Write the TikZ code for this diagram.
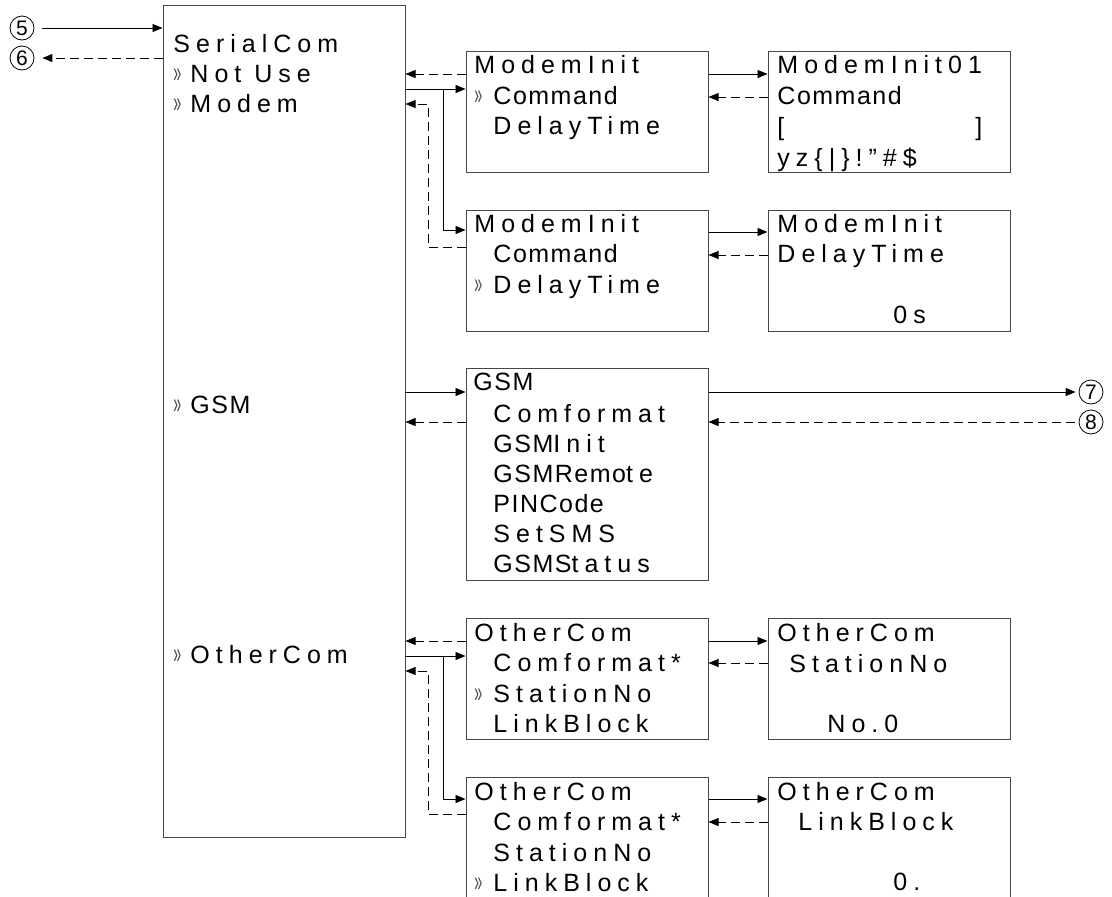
\documentclass[tikz,border=0pt]{standalone}
\usepackage{graphicx}
\usepackage{fontspec}
\setmainfont{Liberation Sans}[LetterSpace=24]
\newfontfamily\tightfont{Liberation Sans}[LetterSpace=6]
\newfontfamily\digitfont{Liberation Sans}
\usepackage{tikz}
\usetikzlibrary{arrows.meta}
\usetikzlibrary{calc}
\definecolor{boxgray}{RGB}{70,70,70}
\newcommand{\drawarrow}{\draw[-{Triangle[length=10pt,width=8pt]}]}
\newcommand{\drawback}{\draw[dashed line, -{Triangle[length=10pt,width=8pt]}]}
\newcommand{\sel}{\textcolor{black!70}{\scalebox{0.75}[1.55]{\fontsize{19}{19}\selectfont »}}}
\newcommand{\tg}[1]{{\tightfont #1}}

\begin{document}
\begin{tikzpicture}[x=1pt,y=-1pt,
    box/.style={draw=boxgray,line width=1pt,inner sep=0,minimum width=242pt},
    txt/.style={anchor=base west,inner sep=0,font=\fontsize{25}{25}\selectfont},
    num/.style={circle,draw,line width=0.8pt,inner sep=0,minimum size=24pt,
        font=\digitfont\fontsize{21}{21}\selectfont},
    dashed line/.style={dash pattern=on 9pt off 5pt},
    line width=0.9pt]
    \useasboundingbox (0,0) rectangle (1112,897);
    \clip (0,0) rectangle (1112,897);

    % Draw boxes
    \node[box,minimum height=832pt] (main) at (284,421) {};
    \node[box,minimum height=121pt] (mi1) at (587,111.5) {};
    \node[box,minimum height=121pt] (mi2) at (587,270.5) {};
    \node[box,minimum height=121pt] (mc) at (889,111.5) {};
    \node[box,minimum height=121pt] (md) at (889,270.5) {};
    \node[box,minimum height=212pt] (gsm) at (587,474) {};
    \node[box,minimum height=121pt] (oc1) at (587,678.5) {};
    \node[box,minimum height=121pt] (oc2) at (587,837.5) {};
    \node[box,minimum height=121pt] (ost) at (889,678.5) {};
    \node[box,minimum height=121pt] (olb) at (889,837.5) {};

    % Circled numbers
    \node[num] (n5) at (22,28) {5};
    \node[num] (n6) at (22,58) {6};
    \node[num] (n7) at (1091,392) {7};
    \node[num] (n8) at (1091,422) {8};

    % Main menu
    \node[txt] (title) at (173,52) {SerialCom};
    \node[txt] (s1) at (173,82) {\sel};
    \node[txt] (notuse) at (190,82) {Not Use};
    \node[txt] (s2) at (173,112) {\sel};
    \node[txt] (modem) at (190,112) {Modem};
    \node[txt] (s3) at (173,413) {\sel};
    \node[txt] (gsmitem) at (190,413) {\tg{GSM}};
    \node[txt] (s4) at (173,663) {\sel};
    \node[txt] (otheritem) at (190,663) {OtherCom};

    % ModemInit menus
    \node[txt] (mi1t) at (474,73) {ModemInit};
    \node[txt] (mi1a) at (493,104) {\tg{Command}};
    \node[txt] (mi1b) at (493,134) {DelayTime};
    \node[txt] (mi1s) at (474,104) {\sel};
    \node[txt] (mi2t) at (474,232) {ModemInit};
    \node[txt] (mi2a) at (493,262) {\tg{Command}};
    \node[txt] (mi2b) at (493,293) {DelayTime};
    \node[txt] (mi2s) at (474,293) {\sel};

    \node[txt] (mct) at (777,73) {ModemInit01};
    \node[txt] (mca) at (777,104) {\tg{Command}};
    \node[txt] (mcl) at (777,135) {[};
    \node[txt] (mcr) at (975,135) {]};
    \node[txt] (mcc) at (777,166) {yz\{|\}!"\#\$};
    \node[txt] (mdt) at (777,232) {ModemInit};
    \node[txt] (mda) at (777,262) {DelayTime};
    \node[txt] (mdv) at (893,323) {0s};

    % GSM menu
    \node[txt] (gsmt) at (473,390) {\tg{GSM}};
    \foreach \t [count=\i] in {Comformat,\tg{GSM}Init,\tg{GSMRemo}te,\tg{PINCode},SetSMS,\tg{GSMS}tatus}
        \node[txt] (gsm\i) at (493,392+30*\i) {\t};

    % OtherCom menus
    \foreach \b/\y/\s in {oc1/641/3,oc2/800/4} {
        \node[txt] (\b t) at (474,\y) {OtherCom};
        \node[txt] (\b a) at (493,\y+30.5) {Comformat*};
        \node[txt] (\b b) at (493,\y+61) {StationNo};
        \node[txt] (\b c) at (493,\y+91.5) {LinkBlock};
        \node[txt] (\b s) at (474,\y+\s*30.5-30.5) {\sel};
    }
    \node[txt] (ostt) at (777,641) {OtherCom};
    \node[txt] (osta) at (789,672) {StationNo};
    \node[txt] (ostv) at (827,732) {No.0};
    \node[txt] (olbt) at (777,800) {OtherCom};
    \node[txt] (olba) at (798,830) {LinkBlock};
    \node[txt] (olbv) at (893,890) {0.};

    % Entry and exit
    \drawarrow ([xshift=8pt]n5.east) -- (main.west |- n5);
    \drawback (main.west |- n6) -- ([xshift=8pt]n6.east);

    % Modem branch
    \coordinate (mbr) at (443,89);
    \drawback (mi1.west |- 0,74) -- (main.east |- 0,74);
    \drawarrow (main.east |- mbr) -- (mi1.west |- mbr);
    \drawarrow (mbr) |- (mi2.west |- 0,230);
    \drawback (mi2.west |- 0,247) -| (428,104) -- (main.east |- 0,104);
    \drawarrow (mi1.east |- 0,74) -- (mc.west |- 0,74);
    \drawback (mc.west |- 0,97) -- (mi1.east |- 0,97);
    \drawarrow (mi2.east |- 0,232) -- (md.west |- 0,232);
    \drawback (md.west |- 0,255) -- (mi2.east |- 0,255);

    % GSM branch
    \drawarrow (main.east |- n7) -- (gsm.west |- n7);
    \drawback (gsm.west |- n8) -- (main.east |- n8);
    \drawarrow (gsm.east |- n7) -- ([xshift=-3pt]n7.west);
    \drawback ([xshift=-4pt]n8.west) -- (gsm.east |- n8);

    % OtherCom branch
    \coordinate (obr) at (443,656);
    \drawback (oc1.west |- 0,641) -- (main.east |- 0,641);
    \drawarrow (main.east |- obr) -- (oc1.west |- obr);
    \drawarrow (obr) |- (oc2.west |- 0,799);
    \drawback (oc2.west |- 0,814) -| (428,671) -- (main.east |- 0,671);
    \drawarrow (oc1.east |- 0,641) -- (ost.west |- 0,641);
    \drawback (ost.west |- 0,663) -- (oc1.east |- 0,663);
    \drawarrow (oc2.east |- 0,799) -- (olb.west |- 0,799);
    \drawback (olb.west |- 0,822) -- (oc2.east |- 0,822);
\end{tikzpicture}
\end{document}
